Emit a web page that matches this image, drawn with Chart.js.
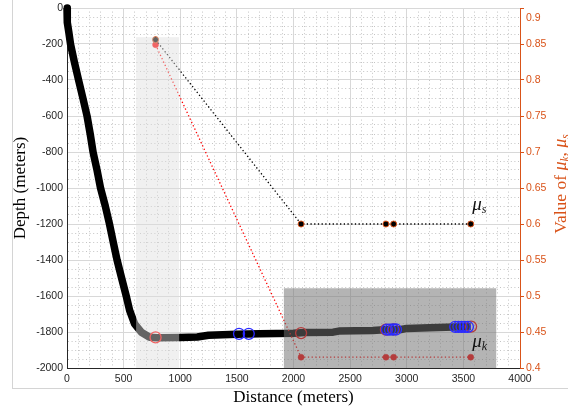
<!DOCTYPE html>
<html><head><meta charset="utf-8">
<script src="https://cdn.jsdelivr.net/npm/chart.js@4.4.0/dist/chart.umd.min.js"></script>
<style>
html,body{margin:0;padding:0;background:#fff;}
#wrap{position:relative;width:568px;height:411px;overflow:hidden;}
canvas{position:absolute;left:0;top:0;}
#frame{position:absolute;left:12px;top:0;width:556px;height:389px;border-left:1px solid #d4d4d4;border-bottom:1px solid #d4d4d4;box-sizing:border-box;pointer-events:none;}
</style></head><body>
<div id="wrap"><canvas id="c" width="568" height="411"></canvas><div id="frame"></div></div>
<script>
// ---- data ----
const distance = [0, 0, 5, 15, 31, 65, 102, 140, 177, 205, 230, 265, 296, 338, 375, 408, 442, 482, 523, 553, 597, 656, 730, 800, 1000, 1150, 1250, 1500, 1700, 2000, 2100, 2350, 2400, 2700, 2800, 2950, 3000, 3200, 3565];
const depth    = [0, -30, -80, -130, -200, -300, -400, -500, -600, -700, -800, -900, -1000, -1100, -1200, -1300, -1400, -1500, -1600, -1680, -1755, -1801, -1829, -1832, -1830, -1828, -1818, -1812, -1810, -1807, -1803, -1801, -1795, -1792, -1788, -1786, -1780, -1776, -1770];

const redRingX = [782, 2067, 2816, 2884, 3568];
const redRingY = [-1830, -1806, -1787, -1786, -1770];
const blueRingX = [1519, 1605, 2826, 2852, 2878, 2905, 3428, 3456, 3484, 3512, 3540];
const blueRingY = [-1810, -1810, -1787, -1787, -1786, -1786, -1771, -1771, -1771, -1771, -1771];

const muX = [782, 2067, 2816, 2884, 3565];
const muS = [0.856, 0.6, 0.6, 0.6, 0.6];
const muK = [0.849, 0.415, 0.415, 0.415, 0.415];

const shadeStart = [610, 1915];
const shadeEnd   = [990, 3790];
const shadeTop   = [-162, -1557];
const shadeBottom = [-2000, -2000];

const xTickStep = 100, xLabelStep = 500;
const yTickStep = 50, yLabelStep = 200;
const y1TickStep = 0.05;

// ---- styles ----
const ORANGE = '#D95319';
const SERIF = "'Liberation Serif', 'Times New Roman', serif";
const SANS = "'Liberation Sans', Arial, Helvetica, sans-serif";
const TICK_COLOR = '#262626';
const GRID_MAJOR = '#d8d8d8';
const GRID_MINOR = '#c4c4c4';
const SHADE_COLORS = ['rgba(222,222,222,0.45)', 'rgba(113,113,113,0.53)'];

const pts = (xs, ys) => xs.map((v, i) => ({x: v, y: ys[i]}));
const isMajor = (v, step) => Math.abs(v / step - Math.round(v / step)) < 1e-6;

const gridColor = step => c => (c.tick && !isMajor(c.tick.value, step)) ? GRID_MINOR : GRID_MAJOR;
const gridDash = step => c => (c.tick && !isMajor(c.tick.value, step)) ? [1, 2.6] : [];
const noPad = s => { s.paddingTop = 0; s.paddingBottom = 0; s.paddingLeft = 0; s.paddingRight = 0; };

function drawRich(ctx, parts, x, y, align) {
  let total = 0;
  parts.forEach(p => { ctx.font = p.font; p.w = ctx.measureText(p.t).width; total += p.w; });
  let cx = align === 'center' ? x - total / 2 : x;
  parts.forEach(p => {
    ctx.font = p.font;
    ctx.fillText(p.t, cx, y + (p.dy || 0));
    cx += p.w;
  });
}

const SHADE_AFTER = 'mu_s';

const overlayPlugin = {
  id: 'overlay',
  afterDatasetDraw(chart, args) {
    if (chart.data.datasets[args.index].label !== SHADE_AFTER) return;
    const {ctx, scales} = chart;
    const x = scales.x, y = scales.y;
    ctx.save();
    for (let i = 0; i < shadeStart.length; i++) {
      const x0 = x.getPixelForValue(shadeStart[i]);
      const x1 = x.getPixelForValue(shadeEnd[i]);
      const yt = y.getPixelForValue(shadeTop[i]);
      const yb = y.getPixelForValue(shadeBottom[i]);
      ctx.fillStyle = SHADE_COLORS[i];
      ctx.fillRect(x0, yt, x1 - x0, yb - yt);
    }
    ctx.restore();
  },
  afterDatasetsDraw(chart) {
    const {ctx, scales} = chart;
    const x = scales.x, y1 = scales.y1;
    ctx.save();
    const last = muX.length - 1;
    const lx = x.getPixelForValue(muX[last]) + 1.5;
    ctx.fillStyle = '#111';
    ctx.textBaseline = 'alphabetic';
    ctx.textAlign = 'left';
    drawRich(ctx, [
      {t: 'μ', font: `italic 19px ${SERIF}`},
      {t: 's', font: `italic 12px ${SERIF}`, dy: 3}
    ], lx, y1.getPixelForValue(muS[last]) - 14, 'left');
    drawRich(ctx, [
      {t: 'μ', font: `italic 19px ${SERIF}`},
      {t: 'k', font: `italic 12px ${SERIF}`, dy: 3}
    ], lx, y1.getPixelForValue(muK[last]) - 10, 'left');
    ctx.restore();
  },
  afterDraw(chart) {
    const {ctx, chartArea} = chart;
    ctx.save();
    ctx.translate(565.5, (chartArea.top + chartArea.bottom) / 2 - 4);
    ctx.rotate(-Math.PI / 2);
    ctx.fillStyle = ORANGE;
    ctx.textBaseline = 'alphabetic';
    ctx.textAlign = 'left';
    drawRich(ctx, [
      {t: 'Value of ', font: `17.5px ${SERIF}`},
      {t: 'μ', font: `italic 18px ${SERIF}`},
      {t: 'k', font: `italic 11.5px ${SERIF}`, dy: 3},
      {t: ', ', font: `17.5px ${SERIF}`},
      {t: 'μ', font: `italic 18px ${SERIF}`},
      {t: 's', font: `italic 11.5px ${SERIF}`, dy: 3}
    ], 0, 0, 'center');
    ctx.restore();
  }
};

new Chart(document.getElementById('c'), {
  type: 'scatter',
  data: {
    datasets: [
      {
        label: 'Depth', data: pts(distance, depth), yAxisID: 'y', showLine: true,
        borderColor: '#000', borderWidth: 7.5, borderJoinStyle: 'round',
        pointStyle: 'rect', pointRadius: c => c.dataIndex === 0 ? 3.5 : 0,
        pointBackgroundColor: '#000', pointBorderWidth: 0, order: 5, clip: 6
      },
      {
        label: 'red rings', data: pts(redRingX, redRingY), yAxisID: 'y',
        pointRadius: 5.5, pointBorderWidth: 1.3, pointBorderColor: '#ff0000',
        pointBackgroundColor: 'rgba(0,0,0,0)', order: 4
      },
      {
        label: 'blue rings', data: pts(blueRingX, blueRingY), yAxisID: 'y',
        pointRadius: 5.5, pointBorderWidth: 1.3, pointBorderColor: '#2a2aff',
        pointBackgroundColor: 'rgba(0,0,0,0)', order: 0
      },
      {
        label: 'mu_k', data: pts(muX, muK), yAxisID: 'y1', showLine: true,
        borderColor: '#ff0000', borderWidth: 1.3, borderDash: [1.3, 2.4],
        pointRadius: 3, pointBackgroundColor: '#ff0000', pointBorderColor: '#ff0000',
        pointBorderWidth: 0.5, order: 2
      },
      {
        label: 'mu_s', data: pts(muX, muS), yAxisID: 'y1', showLine: true,
        borderColor: '#000', borderWidth: 1.3, borderDash: [1.3, 2.4],
        pointRadius: 3, pointBackgroundColor: '#000', pointBorderColor: ORANGE,
        pointBorderWidth: 1, order: 1
      }
    ]
  },
  options: {
    responsive: false, animation: false, devicePixelRatio: 1, events: [],
    layout: {padding: {top: 8, left: 0, right: 0, bottom: 0}},
    plugins: {legend: {display: false}, tooltip: {enabled: false}},
    scales: {
      x: {
        type: 'linear', position: 'bottom', min: 0, max: 4000,
        afterFit: s => { s.height = 43; noPad(s); },
        ticks: {
          stepSize: xTickStep, autoSkip: false, maxRotation: 0, padding: 5,
          color: TICK_COLOR, font: {family: SANS, size: 10.5},
          callback: v => isMajor(v, xLabelStep) ? String(v) : ''
        },
        grid: {color: gridColor(xLabelStep), lineWidth: 1, drawTicks: false},
        border: {display: true, color: TICK_COLOR, width: 1, dash: gridDash(xLabelStep)},
        title: {display: true, text: 'Distance (meters)', color: '#000',
          font: {family: SERIF, size: 17}, padding: {top: 0, bottom: 3}}
      },
      y: {
        type: 'linear', position: 'left', min: -2000, max: 0,
        afterFit: s => { s.width = 67; noPad(s); },
        ticks: {
          stepSize: yTickStep, autoSkip: false, padding: 4,
          color: TICK_COLOR, font: {family: SANS, size: 10.5},
          callback: v => isMajor(v, yLabelStep) ? String(v) : ''
        },
        grid: {color: gridColor(yLabelStep), lineWidth: 1, drawTicks: false},
        border: {display: true, color: TICK_COLOR, width: 1, dash: gridDash(yLabelStep)},
        title: {display: true, text: 'Depth (meters)', color: '#000',
          font: {family: SERIF, size: 17}, padding: {top: 10.5, bottom: 0}}
      },
      y1: {
        type: 'linear', position: 'right', min: 0.4, max: 0.9,
        afterFit: s => { s.width = 48; noPad(s); },
        ticks: {
          stepSize: y1TickStep, autoSkip: false, padding: 2, color: ORANGE,
          font: c => ({family: SANS, size: 10.5,
            lineHeight: (c.tick && Math.abs(c.tick.value - 0.9) < 1e-6) ? 2 : 1.2}),
          callback: v => {
            const s = String(Math.round(v * 100) / 100);
            return Math.abs(v - 0.9) < 1e-6 ? ['', s] : s;
          }
        },
        grid: {drawOnChartArea: false, drawTicks: true, tickLength: 4, tickColor: ORANGE, tickWidth: 1},
        border: {display: true, color: ORANGE, width: 1}
      }
    }
  },
  plugins: [overlayPlugin]
});
</script>
</body></html>
